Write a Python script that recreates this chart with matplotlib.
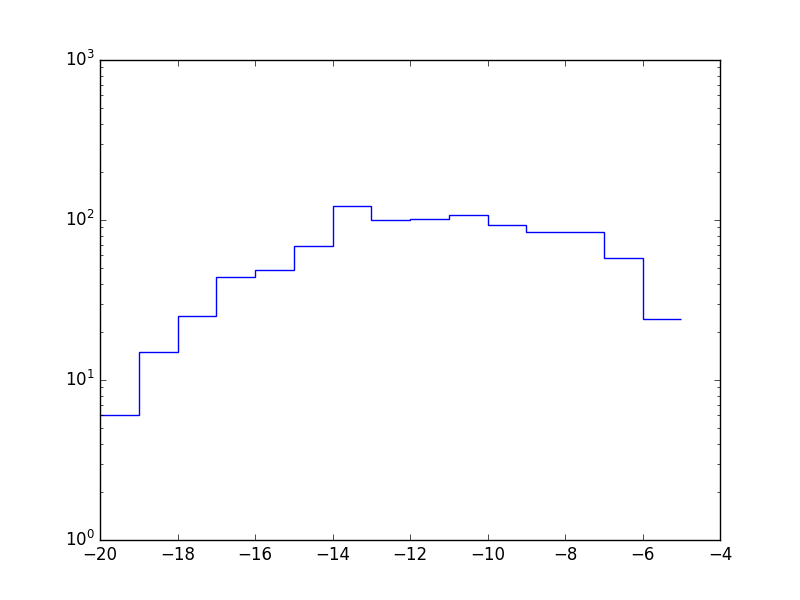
"""Step histogram of counts on a log scale, classic matplotlib look."""

import matplotlib
matplotlib.use('Agg')
import matplotlib.pyplot as plt

bin_edges = [-20, -19, -18, -17, -16, -15, -14, -13, -12, -11, -10,
             -9, -8, -7, -6, -5]
counts = [6, 15, 25, 44, 48.5, 68.5, 122, 100, 101, 107.5, 93,
          84, 84, 58, 24]

plt.style.use('classic')

fig, ax = plt.subplots(figsize=(8, 6), dpi=100)
ax.stairs(counts, bin_edges, baseline=None, color='blue')
ax.set_yscale('log')
ax.set_xlim(-20, -4)
ax.set_ylim(1, 1000)

fig.savefig('out.png', dpi=100)
